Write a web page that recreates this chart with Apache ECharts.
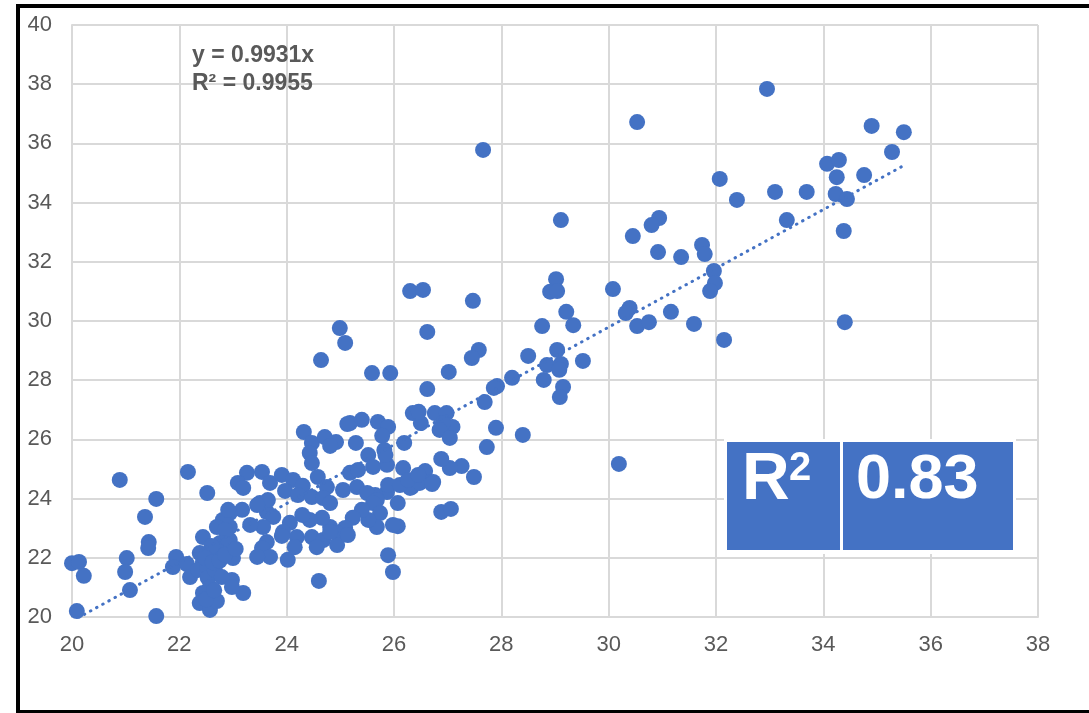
<!DOCTYPE html>
<html>
<head>
<meta charset="utf-8">
<title>Scatter with linear trend</title>
<script src="https://cdn.jsdelivr.net/npm/echarts@6/dist/echarts.min.js"></script>
<style>
  html, body { margin: 0; padding: 0; background: #ffffff; }
  #chart { width: 1089px; height: 713px; }
</style>
</head>
<body>
<div id="chart"></div>
<script>
// Observed values (x) and predicted values (y) for each sample
const xValues = [
  32.95, 30.53, 27.66, 34.90, 35.50, 35.28, 34.07, 34.29, 34.25, 34.76,
  34.23, 34.44, 34.38, 32.07, 32.39, 33.10, 33.69, 33.32, 30.94, 30.80,
  30.45, 29.11, 30.92, 31.35, 31.74, 31.79, 31.96, 31.98, 31.89, 30.08,
  30.39, 30.32, 30.53, 30.75, 31.16, 31.59, 32.15, 34.40, 29.52, 29.02,
  28.91, 29.04, 29.21, 29.34, 28.76, 26.30, 26.54, 27.47, 26.62, 24.99,
  25.09, 24.64, 25.59, 25.93, 27.02, 27.58, 27.45, 28.50, 28.85, 29.04,
  29.11, 29.08, 28.79, 29.15, 29.09, 28.20, 27.92, 27.86, 27.69, 27.90,
  28.40, 27.73, 30.19, 27.49, 27.26, 27.04, 26.88, 26.58, 26.73, 26.51,
  26.17, 25.87, 25.87, 25.65, 26.33, 26.19, 26.35, 26.50, 26.76, 26.98,
  27.09, 26.91, 26.85, 27.04, 26.46, 26.62, 25.40, 25.70, 25.89, 25.78,
  25.82, 25.29, 25.52, 25.61, 25.18, 26.88, 27.06, 26.07, 26.30, 26.48,
  26.71,
  24.32, 24.47, 24.71, 24.92, 24.81, 25.13, 25.84, 24.43, 24.47, 23.26,
  23.09, 23.19, 23.54, 23.69, 23.91, 24.12, 24.30, 24.58, 24.75, 23.97,
  24.21, 24.47, 24.68, 24.81, 25.05, 25.18, 25.33, 25.31, 25.50, 25.68,
  25.89, 26.11, 26.26, 26.45, 26.07, 25.61, 25.74, 25.68, 25.52, 25.40,
  25.23, 25.09, 24.94, 24.81, 24.66, 24.43, 24.29, 24.06, 23.93, 24.19,
  24.47, 24.68, 24.56, 24.94, 24.81, 25.14, 23.63, 23.50, 23.65, 23.75,
  23.56, 23.63, 23.54, 23.69, 23.45, 24.02, 24.15, 23.91, 23.32, 23.17,
  22.94, 22.94, 22.94, 23.00, 22.98, 23.19, 24.60, 25.89, 25.98, 25.98,
  23.45,
  20.89, 22.16, 21.57, 22.52, 21.36, 21.43, 21.42, 20.00, 20.13, 20.22,
  21.02, 20.99, 21.08, 20.09, 21.57, 21.94, 21.88, 22.14, 22.20, 22.44,
  22.38, 22.44, 22.35, 22.52, 22.53, 22.57, 22.44, 22.38, 22.57, 22.70,
  22.81, 22.91, 22.70, 22.85, 22.76, 22.89, 22.70, 22.66, 22.79, 22.98,
  22.60, 22.48, 22.62, 22.75, 22.50, 22.65, 22.85, 23.05
];
const yValues = [
  37.84, 36.72, 35.78, 36.59, 36.38, 35.71, 35.31, 35.44, 34.86, 34.93,
  34.29, 34.12, 33.04, 34.80, 34.09, 34.36, 34.36, 33.41, 33.48, 33.24,
  32.87, 33.41, 32.33, 32.16, 32.57, 32.26, 31.69, 31.28, 31.01, 31.08,
  30.44, 30.27, 29.83, 29.96, 30.31, 29.90, 29.36, 29.96, 28.65, 31.41,
  30.99, 31.01, 30.31, 29.86, 29.83, 31.01, 31.05, 30.68, 29.63, 29.76,
  29.26, 28.68, 28.24, 28.24, 28.28, 29.02, 28.75, 28.82, 28.51, 29.02,
  28.55, 28.35, 28.01, 27.77, 27.43, 28.08, 27.80, 27.74, 27.26, 26.39,
  26.15, 25.74, 25.17, 24.73, 25.10, 25.03, 25.34, 24.93, 24.56, 24.63,
  25.03, 25.14, 24.22, 24.12, 24.39, 25.88, 26.89, 26.55, 26.89, 26.89,
  26.42, 26.55, 26.32, 26.05, 26.93, 27.70, 26.66, 26.59, 26.42, 26.12,
  25.64, 25.88, 25.47, 25.07, 26.55, 23.55, 23.65, 23.07, 24.36, 24.53,
  24.49,
  26.25, 25.88, 26.08, 25.91, 25.78, 26.52, 25.47, 25.54, 25.20, 24.87,
  24.53, 24.36, 24.90, 24.53, 24.80, 24.63, 24.43, 24.73, 24.39, 24.26,
  24.12, 24.05, 24.02, 23.85, 24.29, 24.87, 24.97, 24.39, 24.19, 23.95,
  24.46, 24.46, 24.63, 24.80, 23.85, 23.85, 23.51, 23.04, 23.28, 23.62,
  23.35, 23.01, 22.84, 23.04, 23.35, 23.28, 23.45, 23.18, 22.87, 22.70,
  22.70, 22.60, 22.36, 22.43, 22.87, 22.77, 23.55, 23.85, 23.95, 23.38,
  23.04, 22.53, 22.33, 22.03, 22.03, 21.93, 22.36, 22.74, 23.11, 23.62,
  23.51, 23.04, 22.60, 21.99, 21.25, 20.81, 21.22, 22.09, 21.52, 23.11,
  23.78,
  24.63, 24.90, 23.99, 24.19, 23.38, 22.53, 22.33, 21.82, 21.86, 21.39,
  21.99, 21.52, 20.91, 20.20, 20.03, 22.03, 21.69, 21.79, 21.35, 22.70,
  22.16, 21.86, 21.59, 21.69, 21.32, 21.01, 20.81, 20.47, 20.24, 20.54,
  23.28, 23.62, 23.04, 22.94, 22.50, 22.43, 22.26, 21.59, 21.35, 21.01,
  22.40, 22.00, 21.85, 21.90, 20.60, 20.90, 22.10, 22.30
];

// Axis ticks
const xTicks = [20, 22, 24, 26, 28, 30, 32, 34, 36, 38];
const yTicks = [20, 22, 24, 26, 28, 30, 32, 34, 36, 38, 40];

// Fitted trend (through origin) and goodness-of-fit figures
const trendSlope = 0.9931;
const trendR2 = 0.9955;
const modelR2 = 0.83;

const BLUE = '#4472c4';
const GREY_TEXT = '#595959';
const GRID_GREY = '#d9d9d9';
const FONT = '"Liberation Sans", Arial, sans-serif';

const points = xValues.map((x, i) => [x, yValues[i]]);
const xMin = Math.min(...xValues);
const xMax = Math.max(...xValues);
const trendData = [[xMin, trendSlope * xMin], [xMax, trendSlope * xMax]];

const chart = echarts.init(document.getElementById('chart'), null, { renderer: 'canvas' });

const axisCommon = {
  type: 'value',
  interval: 2,
  axisLine: { show: true, lineStyle: { color: GRID_GREY, width: 2 } },
  axisTick: { show: false },
  splitLine: { show: true, lineStyle: { color: GRID_GREY, width: 2 } },
  axisLabel: { color: GREY_TEXT, fontSize: 22, fontFamily: FONT }
};

chart.setOption({
  animation: false,
  backgroundColor: '#ffffff',
  grid: { left: 72, right: 51, top: 25, bottom: 96, containLabel: false },
  xAxis: Object.assign({}, axisCommon, {
    min: xTicks[0], max: xTicks[xTicks.length - 1],
    axisLabel: Object.assign({}, axisCommon.axisLabel, { margin: 17 })
  }),
  yAxis: Object.assign({}, axisCommon, {
    min: yTicks[0], max: yTicks[yTicks.length - 1],
    axisLabel: Object.assign({}, axisCommon.axisLabel, { margin: 20 })
  }),
  series: [
    {
      type: 'scatter',
      data: points,
      symbol: 'circle',
      symbolSize: 16,
      itemStyle: { color: BLUE, opacity: 1 },
      z: 2
    },
    {
      type: 'line',
      data: trendData,
      showSymbol: false,
      symbol: 'none',
      clip: true,
      lineStyle: { color: BLUE, width: 3, type: [0.5, 6.5], cap: 'round' },
      z: 3
    }
  ],
  graphic: [
    // outer frame
    {
      type: 'rect',
      shape: { x: 18, y: 6, width: 1100, height: 706 },
      style: { fill: 'none', stroke: '#000000', lineWidth: 4 },
      z: 10
    },
    // trendline equation
    {
      type: 'text',
      left: 192,
      top: 42,
      style: {
        text: 'y = ' + trendSlope + 'x\nR² = ' + trendR2,
        font: 'bold 23px ' + FONT,
        fill: GREY_TEXT,
        lineHeight: 28
      },
      z: 10
    },
    // R² panel
    {
      type: 'rect',
      shape: { x: 724, y: 439, width: 292, height: 115 },
      style: { fill: '#ffffff' },
      z: 10
    },
    {
      type: 'rect',
      shape: { x: 727, y: 442, width: 113, height: 108 },
      style: { fill: BLUE },
      z: 11
    },
    {
      type: 'rect',
      shape: { x: 843, y: 442, width: 170, height: 108 },
      style: { fill: BLUE },
      z: 11
    },
    {
      type: 'text',
      x: 742, y: 481,
      style: {
        text: 'R',
        font: 'bold 66px ' + FONT,
        fill: '#ffffff',
        textVerticalAlign: 'middle',
        verticalAlign: 'middle'
      },
      z: 12
    },
    {
      type: 'text',
      x: 789, y: 469,
      style: {
        text: '2',
        font: 'bold 40px ' + FONT,
        fill: '#ffffff',
        textVerticalAlign: 'middle',
        verticalAlign: 'middle'
      },
      z: 12
    },
    {
      type: 'text',
      x: 856, y: 481,
      style: {
        text: modelR2.toFixed(2),
        font: 'bold 63px ' + FONT,
        fill: '#ffffff',
        textVerticalAlign: 'middle',
        verticalAlign: 'middle'
      },
      z: 12
    }
  ]
});
</script>
</body>
</html>
